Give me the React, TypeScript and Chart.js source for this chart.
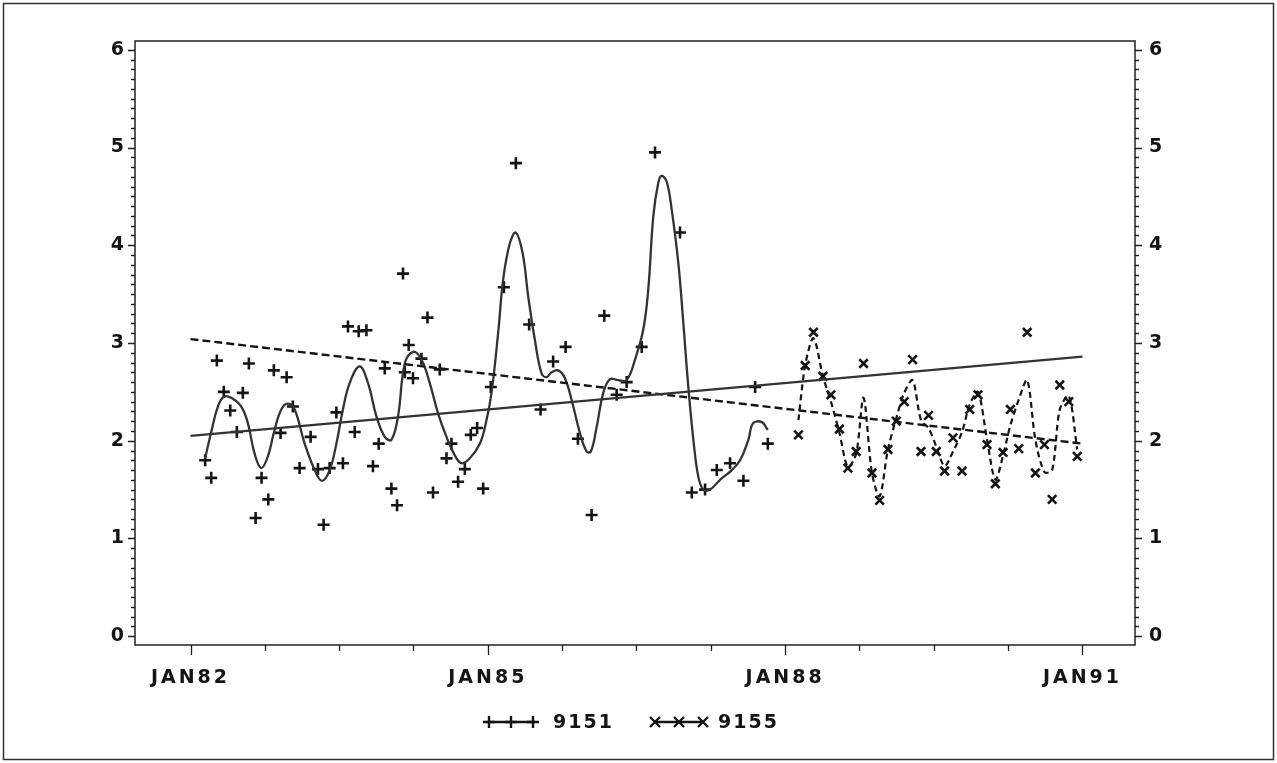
import React, { useEffect, useRef } from 'react';
import { Chart, registerables } from 'chart.js';

Chart.register(...registerables);

// ---- axis ticks ----
const X_TICK_YEARS = [1982, 1985, 1988, 1991];
const X_TICK_LABELS = ['JAN82', 'JAN85', 'JAN88', 'JAN91'];
const X_MINOR_STEP = 0.75;
const Y_TICKS = [0, 1, 2, 3, 4, 5, 6];
const Y_MINOR_STEP = 0.1;

const SERIES_NAMES = ['9151', '9155'];

// ---- series 9151: observations (decimal year, value) ----
const S9151_DATES = [
  1982.148, 1982.209, 1982.266, 1982.336, 1982.401, 1982.468, 1982.528, 1982.589, 1982.657, 1982.717,
  1982.785, 1982.841, 1982.909, 1982.970, 1983.033, 1983.101, 1983.212, 1983.286, 1983.343, 1983.404,
  1983.472, 1983.538, 1983.589, 1983.657, 1983.697, 1983.775, 1983.841, 1983.899, 1983.960, 1984.027,
  1984.084, 1984.144, 1984.162, 1984.202, 1984.245, 1984.330, 1984.391, 1984.447, 1984.515, 1984.583,
  1984.633, 1984.700, 1984.768, 1984.828, 1984.892, 1984.953, 1985.030, 1985.162, 1985.283, 1985.417,
  1985.532, 1985.659, 1985.785, 1985.909, 1986.047, 1986.175, 1986.300, 1986.401, 1986.553, 1986.687,
  1986.939, 1987.058, 1987.192, 1987.310, 1987.444, 1987.579, 1987.697, 1987.825,
];
const S9151_VALUES = [
  1.80, 1.62, 2.82, 2.50, 2.31, 2.09, 2.49, 2.79, 1.21, 1.62,
  1.40, 2.72, 2.08, 2.65, 2.35, 1.72, 2.04, 1.71, 1.14, 1.72,
  2.29, 1.77, 3.17, 2.09, 3.12, 3.13, 1.74, 1.97, 2.74, 1.51,
  1.34, 3.71, 2.70, 2.98, 2.64, 2.84, 3.26, 1.47, 2.73, 1.82,
  1.97, 1.58, 1.71, 2.06, 2.13, 1.51, 2.55, 3.57, 4.84, 3.19,
  2.32, 2.81, 2.96, 2.02, 1.24, 3.28, 2.47, 2.60, 2.96, 4.95,
  4.13, 1.47, 1.50, 1.70, 1.77, 1.59, 2.55, 1.97,
];

// ---- series 9151: smoothed curve ----
const S9151_SMOOTH_DATES = [
  1982.148, 1982.209, 1982.276, 1982.336, 1982.411, 1982.512, 1982.579, 1982.646, 1982.714, 1982.781,
  1982.848, 1982.916, 1982.983, 1983.051, 1983.152, 1983.253, 1983.326, 1983.404, 1983.472, 1983.538,
  1983.606, 1983.707, 1983.791, 1983.876, 1983.960, 1984.027, 1984.094, 1984.162, 1984.245, 1984.330,
  1984.414, 1984.498, 1984.583, 1984.667, 1984.734, 1984.818, 1984.919, 1984.980, 1985.037, 1985.104,
  1985.155, 1985.222, 1985.283, 1985.351, 1985.407, 1985.475, 1985.542, 1985.593, 1985.643, 1985.710,
  1985.778, 1985.845, 1985.929, 1985.997, 1986.040, 1986.098, 1986.165, 1986.232, 1986.316, 1986.401,
  1986.485, 1986.569, 1986.619, 1986.670, 1986.720, 1986.754, 1986.805, 1986.856, 1986.922, 1986.973,
  1987.023, 1987.074, 1987.124, 1987.175, 1987.242, 1987.343, 1987.462, 1987.545, 1987.629, 1987.677,
  1987.765, 1987.825,
];
const S9151_SMOOTH_VALUES = [
  1.82, 2.09, 2.35, 2.45, 2.44, 2.35, 2.18, 1.87, 1.72, 1.84,
  2.11, 2.32, 2.38, 2.32, 1.97, 1.70, 1.59, 1.70, 1.97, 2.32,
  2.59, 2.76, 2.59, 2.25, 2.04, 2.01, 2.25, 2.79, 2.91, 2.83,
  2.59, 2.28, 2.04, 1.85, 1.77, 1.82, 1.97, 2.18, 2.49, 3.10,
  3.65, 4.02, 4.13, 3.92, 3.48, 3.03, 2.69, 2.65, 2.70, 2.72,
  2.64, 2.42, 2.08, 1.89, 1.89, 2.14, 2.49, 2.63, 2.62, 2.62,
  2.83, 3.14, 3.55, 4.30, 4.64, 4.71, 4.65, 4.36, 3.82, 3.20,
  2.55, 2.01, 1.63, 1.50, 1.50, 1.60, 1.70, 1.80, 2.01, 2.18,
  2.19, 2.11,
];

// ---- series 9155: observations ----
const S9155_DATES = [
  1988.134, 1988.202, 1988.286, 1988.381, 1988.462, 1988.548, 1988.633, 1988.717, 1988.791, 1988.876,
  1988.953, 1989.037, 1989.121, 1989.202, 1989.286, 1989.371, 1989.447, 1989.525, 1989.609, 1989.694,
  1989.785, 1989.862, 1989.946, 1990.037, 1990.121, 1990.199, 1990.273, 1990.357, 1990.442, 1990.525,
  1990.616, 1990.694, 1990.771, 1990.862, 1990.947,
];
const S9155_VALUES = [
  2.06, 2.77, 3.11, 2.66, 2.47, 2.12, 1.72, 1.89, 2.79, 1.67,
  1.39, 1.91, 2.20, 2.40, 2.83, 1.89, 2.26, 1.89, 1.69, 2.03,
  1.69, 2.32, 2.47, 1.96, 1.56, 1.88, 2.32, 1.92, 3.11, 1.67,
  1.96, 1.40, 2.57, 2.40, 1.84,
];
// ---- series 9155: smoothed curve (at the observation dates) ----
const S9155_SMOOTH_VALUES = [
  2.21, 2.77, 3.05, 2.66, 2.40, 2.08, 1.73, 1.87, 2.44, 1.67,
  1.43, 1.91, 2.23, 2.49, 2.62, 2.21, 2.13, 1.94, 1.74, 1.89,
  2.09, 2.37, 2.50, 2.01, 1.60, 1.85, 2.16, 2.42, 2.62, 2.01,
  1.68, 1.70, 2.32, 2.46, 1.91,
];

// ---- linear trends ----
const TREND_DATES = [1982, 1991];
const TREND_9151 = [2.05, 2.86];
const TREND_9155 = [3.04, 1.97];

const pts = (xs: number[], ys: number[]) => xs.map((x, i) => ({ x, y: ys[i] }));

const FONT = { family: 'DejaVu Sans', size: 19, weight: 'bold' as const };
const INK = '#141414';
const LINE = '#333333';
const DASH = [8, 4];

const framePlugin = {
  id: 'sasFrame',
  beforeDraw(chart: any) {
    const ctx = chart.ctx;
    ctx.fillStyle = '#ffffff';
    ctx.fillRect(0, 0, chart.width, chart.height);
    (ctx as any).letterSpacing = '3px';
  },
  afterDraw(chart: any) {
    const ctx = chart.ctx as CanvasRenderingContext2D;
    const { left, right, top, bottom } = chart.chartArea;
    const xs = chart.scales.x;
    const ys = chart.scales.y;
    ctx.save();
    ctx.strokeStyle = '#222';
    ctx.lineWidth = 1.5;
    ctx.strokeRect(left, top, right - left, bottom - top);

    // y ticks (left & right)
    ctx.lineWidth = 1.3;
    const nY = Math.round((Y_TICKS[Y_TICKS.length - 1] - Y_TICKS[0]) / Y_MINOR_STEP);
    for (let i = 0; i <= nY; i++) {
      const v = Y_TICKS[0] + i * Y_MINOR_STEP;
      const py = Math.round(ys.getPixelForValue(v)) + 0.5;
      const len = i % 10 === 0 ? 7 : 4;
      ctx.beginPath();
      ctx.moveTo(left - len, py);
      ctx.lineTo(left, py);
      ctx.moveTo(right, py);
      ctx.lineTo(right + len, py);
      ctx.stroke();
    }
    // x ticks
    const x0 = X_TICK_YEARS[0];
    const x1 = X_TICK_YEARS[X_TICK_YEARS.length - 1];
    const nX = Math.round((x1 - x0) / X_MINOR_STEP);
    for (let k = 0; k <= nX; k++) {
      const v = x0 + k * X_MINOR_STEP;
      const px = Math.round(xs.getPixelForValue(v)) + 0.5;
      const len = k % 4 === 0 ? 10 : 6;
      ctx.beginPath();
      ctx.moveTo(px, bottom);
      ctx.lineTo(px, bottom + len);
      ctx.stroke();
    }

    // outer border
    ctx.lineWidth = 1.5;
    ctx.strokeStyle = '#333';
    ctx.strokeRect(3.5, 3.5, chart.width - 7, chart.height - 7);

    // legend
    const ly = 722;
    ctx.strokeStyle = INK;
    ctx.fillStyle = INK;
    ctx.lineWidth = 2.4;
    // 9151 symbol
    ctx.beginPath();
    ctx.moveTo(487, ly);
    ctx.lineTo(535, ly);
    ctx.stroke();
    [489, 511, 533].forEach((cx) => {
      ctx.beginPath();
      ctx.moveTo(cx - 6, ly);
      ctx.lineTo(cx + 6, ly);
      ctx.moveTo(cx, ly - 6);
      ctx.lineTo(cx, ly + 6);
      ctx.stroke();
    });
    // 9155 symbol
    ctx.beginPath();
    ctx.moveTo(655, ly);
    ctx.lineTo(703, ly);
    ctx.stroke();
    [655, 679, 703].forEach((cx) => {
      ctx.beginPath();
      ctx.moveTo(cx - 5, ly - 5);
      ctx.lineTo(cx + 5, ly + 5);
      ctx.moveTo(cx + 5, ly - 5);
      ctx.lineTo(cx - 5, ly + 5);
      ctx.stroke();
    });
    ctx.font = `bold ${FONT.size}px "${FONT.family}"`;
    (ctx as any).letterSpacing = '2px';
    ctx.textBaseline = 'middle';
    ctx.textAlign = 'left';
    ctx.fillText(SERIES_NAMES[0], 553, ly + 1);
    ctx.fillText(SERIES_NAMES[1], 718, ly + 1);
    ctx.restore();
  },
};

export default function App() {
  const ref = useRef<HTMLCanvasElement | null>(null);

  useEffect(() => {
    if (!ref.current) return;
    const yScale = (position: 'left' | 'right', width: number) => ({
      type: 'linear' as const,
      position,
      min: -0.09,
      max: 6.09,
      afterBuildTicks: (s: any) => {
        s.ticks = Y_TICKS.map((v) => ({ value: v }));
      },
      afterFit: (s: any) => {
        s.width = width;
      },
      grid: { display: false, drawTicks: false },
      border: { display: false },
      ticks: {
        font: FONT,
        color: INK,
        padding: position === 'left' ? 8 : 14,
        callback: (v: any) => String(v),
      },
    });

    const chart = new Chart(ref.current, {
      type: 'scatter',
      data: {
        datasets: [
          {
            label: SERIES_NAMES[0] + ' trend',
            data: pts(TREND_DATES, TREND_9151),
            showLine: true,
            pointRadius: 0,
            borderColor: LINE,
            borderWidth: 2.3,
          },
          {
            label: SERIES_NAMES[1] + ' trend',
            data: pts(TREND_DATES, TREND_9155),
            showLine: true,
            pointRadius: 0,
            borderColor: INK,
            borderWidth: 2.4,
            borderDash: DASH,
          },
          {
            label: SERIES_NAMES[0] + ' smooth',
            data: pts(S9151_SMOOTH_DATES, S9151_SMOOTH_VALUES),
            showLine: true,
            pointRadius: 0,
            borderColor: LINE,
            borderWidth: 2.3,
            tension: 0.4,
          },
          {
            label: SERIES_NAMES[1] + ' smooth',
            data: pts(S9155_DATES, S9155_SMOOTH_VALUES),
            showLine: true,
            pointRadius: 0,
            borderColor: INK,
            borderWidth: 2.2,
            borderDash: [6, 4],
            tension: 0.3,
          },
          {
            label: SERIES_NAMES[0],
            data: pts(S9151_DATES, S9151_VALUES),
            showLine: false,
            pointStyle: 'cross',
            pointRadius: 6,
            pointBorderWidth: 2.6,
            pointBorderColor: INK,
            borderColor: INK,
            backgroundColor: INK,
          },
          {
            label: SERIES_NAMES[1],
            data: pts(S9155_DATES, S9155_VALUES),
            showLine: false,
            pointStyle: 'crossRot',
            pointRadius: 6,
            pointBorderWidth: 2.6,
            pointBorderColor: INK,
            borderColor: INK,
            backgroundColor: INK,
          },
        ],
      },
      options: {
        animation: false,
        responsive: false,
        maintainAspectRatio: false,
        layout: { padding: { top: 41, left: 0, right: 0, bottom: 0 } },
        plugins: { legend: { display: false }, tooltip: { enabled: false } },
        scales: {
          x: {
            type: 'linear',
            position: 'bottom',
            min: 1981.44,
            max: 1991.53,
            afterBuildTicks: (s: any) => {
              s.ticks = X_TICK_YEARS.map((v) => ({ value: v }));
            },
            afterFit: (s: any) => {
              s.height = 118;
            },
            grid: { display: false, drawTicks: false },
            border: { display: false },
            ticks: {
              font: FONT,
              color: INK,
              padding: 22,
              maxRotation: 0,
              autoSkip: false,
              callback: (v: any) => {
                const i = X_TICK_YEARS.indexOf(Number(v));
                return i >= 0 ? X_TICK_LABELS[i] : '';
              },
            },
          },
          y: yScale('left', 135),
          y2: yScale('right', 142),
        },
      },
      plugins: [framePlugin],
    });
    return () => chart.destroy();
  }, []);

  return (
    <div style={{ position: 'fixed', left: 0, top: 0, width: 1277, height: 763, background: '#fff' }}>
      <canvas ref={ref} width={1277} height={763} style={{ display: 'block', width: 1277, height: 763 }} />
    </div>
  );
}
